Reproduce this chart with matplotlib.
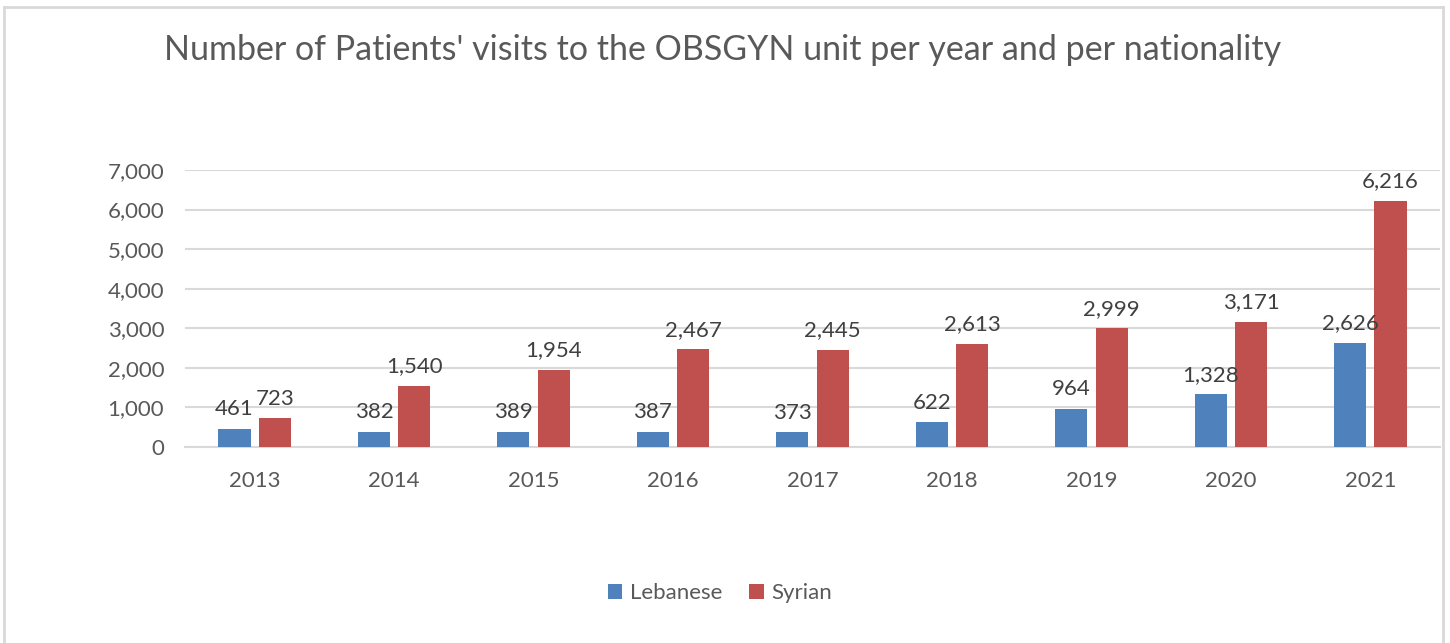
import numpy as np
import matplotlib.pyplot as plt

# data
years = ['2013', '2014', '2015', '2016', '2017', '2018', '2019', '2020', '2021']
lebanese = [461, 382, 389, 387, 373, 622, 964, 1328, 2626]
syrian = [723, 1540, 1954, 2467, 2445, 2613, 2999, 3171, 6216]

blue = '#4F81BD'
red = '#C0504D'
txt = '#595959'

plt.rcParams['font.family'] = ['Lato', 'DejaVu Sans']

W, H = 1450, 643
fig = plt.figure(figsize=(W / 100, H / 100), dpi=100)
ax = fig.add_axes([185 / W, 1 - 447 / H, (1440 - 185) / W, (447 - 170) / H])

x = np.arange(len(years))
bw = 0.23
off = 0.145
b1 = ax.bar(x - off, lebanese, bw, color=blue, label='Lebanese', zorder=3)
b2 = ax.bar(x + off, syrian, bw, color=red, label='Syrian', zorder=3)

for bars, vals in [(b1, lebanese), (b2, syrian)]:
    for b, v in zip(bars, vals):
        ax.annotate(f'{v:,}', (b.get_x() + b.get_width() / 2, v),
                    xytext=(0, 7), textcoords='offset points',
                    ha='center', va='bottom', fontsize=16, color='#404040')

# axes styling
ax.set_xlim(-0.5, len(years) - 0.5)
ax.set_ylim(0, 7000)
ax.set_yticks(np.arange(0, 7001, 1000))
ax.set_yticklabels([f'{v:,}' for v in range(0, 7001, 1000)])
ax.set_xticks(x)
ax.set_xticklabels(years)
ax.tick_params(length=0, labelsize=16, colors=txt)
ax.tick_params(axis='x', pad=17)
ax.tick_params(axis='y', pad=15)
ax.grid(axis='y', color='#D9D9D9', linewidth=1.5, zorder=0)
for s in ['top', 'right', 'left']:
    ax.spines[s].set_visible(False)
ax.spines['bottom'].set_color('#D9D9D9')
ax.spines['bottom'].set_linewidth(1.5)

fig.text(723 / W, 1 - 50 / H, "Number of Patients' visits to the OBSGYN unit per year and per nationality",
         ha='center', va='center', fontsize=24.5, color=txt)

fig.legend(handles=[b1, b2], loc='center', bbox_to_anchor=(720 / W, 1 - 593 / H),
           ncol=2, frameon=False, fontsize=16, labelcolor=txt,
           handlelength=0.65, handleheight=0.65, handletextpad=0.35, columnspacing=1.2)

# chart frame (top, left, right)
frame = dict(transform=fig.transFigure, color='#D9D9D9', linewidth=2)
fig.add_artist(plt.Line2D([4 / W, 1443 / W], [1 - 7 / H, 1 - 7 / H], **frame))
fig.add_artist(plt.Line2D([4 / W, 4 / W], [0, 1 - 7 / H], **frame))
fig.add_artist(plt.Line2D([1443 / W, 1443 / W], [0, 1 - 7 / H], **frame))

plt.savefig('out.png', dpi=100)
